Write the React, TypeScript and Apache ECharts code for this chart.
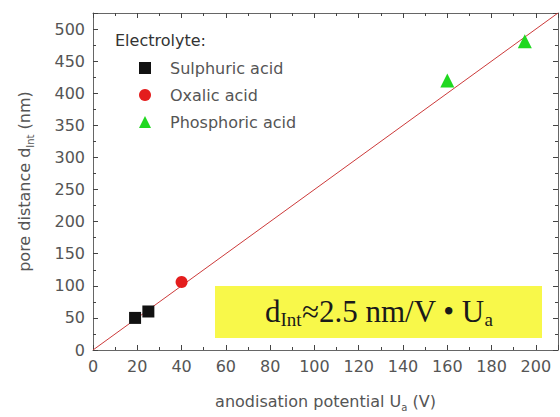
import React, { useEffect, useRef } from "react";
import * as echarts from "echarts";

const sulphuric: number[][] = [[19, 50], [25, 60]];
const oxalic: number[][] = [[40, 106]];
const phosphoric: number[][] = [[160, 420], [195, 481]];
const fitLine: number[][] = [[0, 0], [210, 525]];
const legendNames = ["Sulphuric acid", "Oxalic acid", "Phosphoric acid"];

const FONT = "DejaVu Sans";
const GRAY = "#555";

export default function App() {
  const ref = useRef<HTMLDivElement>(null);
  useEffect(() => {
    const chart = echarts.init(ref.current!, null, { renderer: "svg" });
    const tickCommon = {
      axisLine: { show: true, onZero: false, lineStyle: { color: "#666", width: 1 } },
      axisTick: { show: true, inside: true, length: 5, lineStyle: { color: "#444" } },
      minorTick: { show: true, splitNumber: 2, length: 3, lineStyle: { color: "#444" } },
      splitLine: { show: false },
    };
    const subRich = {
      sub: { fontSize: 10, fontFamily: FONT, color: GRAY, lineHeight: 10, verticalAlign: "bottom" as const },
      n: { fontSize: 16, fontFamily: FONT, color: GRAY, lineHeight: 22 },
    };
    chart.setOption({
      animation: false,
      backgroundColor: "#fff",
      grid: { left: 93, right: 2, top: 13, bottom: 62 },
      xAxis: [
        {
          type: "value", min: 0, max: 210, interval: 20, position: "bottom",
          ...tickCommon,
          axisLabel: { color: GRAY, fontSize: 16, fontFamily: FONT, margin: 8, showMaxLabel: false,
            formatter: (v: number) => (v > 200 ? "" : String(v)) },
          name: "{n|anodisation potential U}{sub|a}{n| (V)}",
          nameLocation: "middle", nameGap: 40,
          nameTextStyle: { rich: subRich },
        },
        {
          type: "value", min: 0, max: 210, interval: 20, position: "top",
          ...tickCommon, axisLabel: { show: false },
        },
      ],
      yAxis: [
        {
          type: "value", min: 0, max: 525, interval: 50, position: "left",
          ...tickCommon,
          axisLabel: { color: GRAY, fontSize: 16, fontFamily: FONT, margin: 8,
            formatter: (v: number) => (v > 500 ? "" : String(v)) },
          name: "{n|pore distance d}{sub|Int}{n| (nm)}",
          nameLocation: "middle", nameGap: 58,
          nameTextStyle: { rich: subRich },
        },
        {
          type: "value", min: 0, max: 525, interval: 50, position: "right",
          ...tickCommon, axisLabel: { show: false },
        },
      ],
      legend: {
        orient: "vertical", left: 134, top: 55, itemWidth: 12, itemHeight: 12, itemGap: 11,
        data: legendNames,
        textStyle: { fontSize: 16, fontFamily: FONT, color: GRAY, padding: [0, 0, 0, 14] },
      },
      graphic: [
        {
          type: "text", left: 115, top: 32,
          style: { text: "Electrolyte:", fontSize: 16, fontFamily: FONT, fill: "#333" },
        },
        {
          type: "rect", shape: { x: 215, y: 286, width: 327, height: 52 },
          style: { fill: "#f8f84a" }, z: 1,
        },
        {
          type: "text", x: 379, y: 311, z: 2,
          style: {
            text: "{m|d}{s|Int}{m|≈2.5 nm/V • U}{s|a}",
            align: "center", verticalAlign: "middle",
            rich: {
              m: { fontSize: 31, fontFamily: "Liberation Serif", fill: "#1a1a1a", lineHeight: 36 },
              s: { fontSize: 19, fontFamily: "Liberation Serif", fill: "#1a1a1a", lineHeight: 15, verticalAlign: "bottom" },
            },
          },
        },
      ],
      series: [
        {
          type: "line", data: fitLine, symbol: "none", silent: true,
          lineStyle: { color: "#cc3a3a", width: 1 }, z: 3,
        },
        {
          name: legendNames[0], type: "scatter", data: sulphuric, symbol: "rect", symbolSize: 12,
          itemStyle: { color: "#111", opacity: 1 }, z: 4,
        },
        {
          name: legendNames[1], type: "scatter", data: oxalic, symbol: "circle", symbolSize: 12,
          itemStyle: { color: "#e41d1d", opacity: 1 }, z: 4,
        },
        {
          name: legendNames[2], type: "scatter", data: phosphoric, symbol: "triangle", symbolSize: 14,
          itemStyle: { color: "#1fd81f", opacity: 1 }, z: 4,
        },
      ],
    });
    return () => chart.dispose();
  }, []);
  return <div ref={ref} style={{ width: 560, height: 417, position: "absolute", left: 0, top: 0 }} />;
}
